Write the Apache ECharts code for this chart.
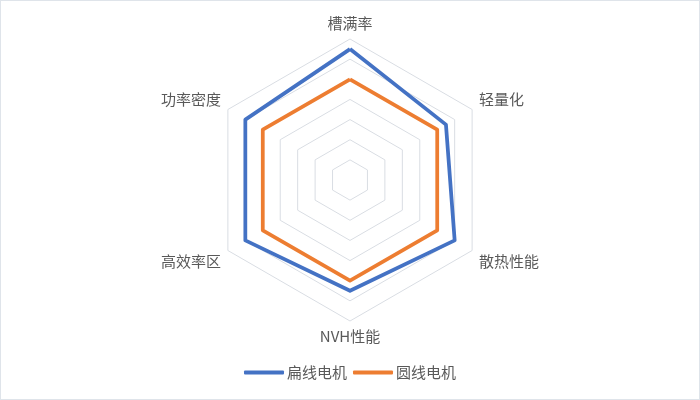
<!DOCTYPE html>
<html>
<head>
<meta charset="utf-8">
<script src="https://cdn.jsdelivr.net/npm/echarts@6/dist/echarts.min.js"></script>
<style>
html,body{margin:0;padding:0;background:#fff;}
#wrap{width:700px;height:400px;box-sizing:border-box;border:1px solid #dfe4ea;}
#chart{width:698px;height:398px;}
</style>
</head>
<body>
<div id="wrap"><div id="chart"></div></div>
<script>
const indicators = ['槽满率', '功率密度', '高效率区', 'NVH性能', '散热性能', '轻量化'];
const seriesNames = ['扁线电机', '圆线电机'];
const flatWire = [6.5, 6, 6, 5.5, 6, 5.5];
const roundWire = [5, 5, 5, 5, 5, 5];
const axisMax = 7;
const upperSide = ['功率密度', '轻量化'];
const lowerSide = ['高效率区', '散热性能'];

const chart = echarts.init(document.getElementById('chart'));
const font = '"Noto Sans CJK SC", "Noto Sans", sans-serif';
const nameStyle = { color: '#595959', fontSize: 15, fontFamily: font };
chart.setOption({
  animation: false,
  textStyle: { fontFamily: font },
  legend: {
    bottom: 14,
    left: 'center',
    data: seriesNames,
    icon: 'roundRect',
    itemWidth: 40,
    itemHeight: 4,
    itemGap: 6,
    textStyle: { fontSize: 15, color: '#595959', fontFamily: font, padding: [0, 0, 0, -2] }
  },
  radar: {
    center: [349, 179],
    radius: 141,
    startAngle: 90,
    splitNumber: 7,
    shape: 'polygon',
    indicator: indicators.map(n => ({ name: n, max: axisMax, min: 0 })),
    axisName: {
      color: '#595959', fontSize: 15, fontFamily: font,
      formatter: function (name) {
        if (upperSide.indexOf(name) >= 0) return '{up|' + name + '}';
        if (lowerSide.indexOf(name) >= 0) return '{down|' + name + '}';
        return '{n|' + name + '}';
      },
      rich: {
        up: Object.assign({ padding: [0, 0, 12, 0] }, nameStyle),
        down: Object.assign({ padding: [14, 0, 0, 0] }, nameStyle),
        n: Object.assign({}, nameStyle)
      }
    },
    nameGap: 8,
    axisLine: { show: false },
    splitArea: { show: false },
    splitLine: { lineStyle: { color: '#d9dde3', width: 1 } }
  },
  series: [{
    type: 'radar',
    symbol: 'none',
    data: [
      { name: seriesNames[0], value: flatWire,
        lineStyle: { color: '#4472C4', width: 3.75 }, itemStyle: { color: '#4472C4' } },
      { name: seriesNames[1], value: roundWire,
        lineStyle: { color: '#ED7D31', width: 3.75 }, itemStyle: { color: '#ED7D31' } }
    ]
  }]
});
</script>
</body>
</html>
